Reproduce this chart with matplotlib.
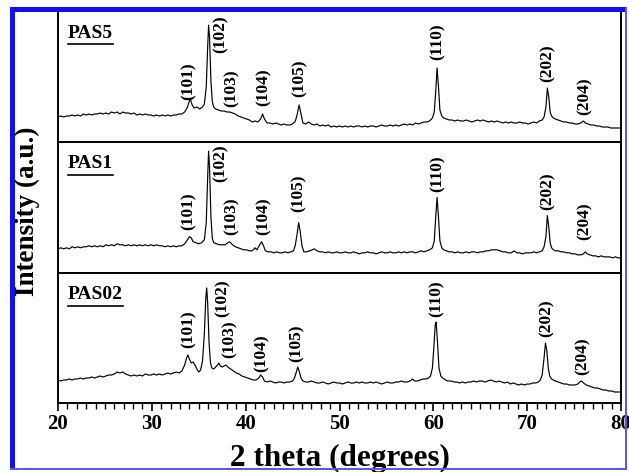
import matplotlib
matplotlib.use("Agg")
import matplotlib.pyplot as plt
from matplotlib.patches import Rectangle
from matplotlib.lines import Line2D
from matplotlib.ticker import MultipleLocator

# ---------------- data ----------------
sample_names = ["PAS5", "PAS1", "PAS02"]
hkl_labels = ["(101)", "(102)", "(103)", "(104)", "(105)", "(110)", "(202)", "(204)"]
x_ticks = [20, 30, 40, 50, 60, 70, 80]

pas5_points = [
    (20.0, 25), (20.3, 26), (20.6, 25), (20.9, 26), (21.2, 26), (21.5, 27), (21.8, 26), (22.1, 27),
    (22.4, 26), (22.7, 28), (23.0, 27), (23.3, 28), (23.6, 27), (23.9, 28), (24.2, 28), (24.5, 29),
    (24.8, 28), (25.1, 29), (25.4, 28), (25.7, 30), (26.0, 29), (26.3, 30), (26.6, 28), (26.9, 30),
    (27.2, 29), (27.5, 29), (27.8, 28), (28.1, 29), (28.4, 27), (28.7, 28), (29.0, 27), (29.3, 28),
    (29.6, 27), (29.9, 27), (30.2, 26), (30.5, 27), (30.8, 26), (31.1, 27), (31.4, 26), (31.7, 27),
    (32.0, 26), (32.3, 27), (32.6, 27), (32.9, 28), (33.2, 28), (33.5, 30), (33.8, 35), (34.0, 41),
    (34.1, 43), (34.3, 37), (34.5, 34), (34.8, 35), (35.1, 33), (35.4, 35), (35.6, 38), (35.8, 55),
    (35.95, 95), (36.05, 117), (36.15, 105), (36.3, 60), (36.45, 40), (36.6, 35), (36.8, 33),
    (37.1, 32), (37.4, 31), (37.7, 31), (38.0, 30), (38.3, 30), (38.6, 29), (38.9, 28), (39.2, 26),
    (39.5, 25), (39.8, 24), (40.1, 23), (40.4, 22), (40.7, 20), (41.0, 21), (41.3, 20), (41.6, 23),
    (41.8, 28), (42.0, 23), (42.3, 19), (42.6, 19), (42.9, 18), (43.2, 19), (43.5, 18), (43.8, 17),
    (44.1, 18), (44.4, 17), (44.7, 17), (45.0, 18), (45.3, 21), (45.5, 28), (45.7, 37), (45.9, 28),
    (46.1, 19), (46.4, 18), (46.7, 20), (47.0, 18), (47.3, 17), (47.6, 18), (47.9, 16), (48.2, 17),
    (48.5, 16), (48.8, 17), (49.1, 15), (49.4, 16), (49.7, 15), (50.0, 16), (50.3, 15), (50.6, 16),
    (50.9, 15), (51.2, 16), (51.5, 15), (51.8, 16), (52.1, 16), (52.4, 15), (52.7, 16), (53.0, 15),
    (53.3, 16), (53.6, 16), (53.9, 15), (54.2, 16), (54.5, 17), (54.8, 16), (55.1, 16), (55.4, 17),
    (55.7, 16), (56.0, 17), (56.3, 16), (56.6, 17), (56.9, 18), (57.2, 17), (57.5, 18), (57.8, 17),
    (58.1, 19), (58.4, 18), (58.7, 19), (59.0, 20), (59.3, 20), (59.6, 21), (59.9, 24), (60.1, 30),
    (60.25, 50), (60.4, 74), (60.55, 55), (60.7, 32), (60.9, 26), (61.1, 24), (61.4, 23), (61.7, 22),
    (62.0, 22), (62.3, 21), (62.6, 22), (62.9, 21), (63.2, 21), (63.5, 22), (63.8, 21), (64.1, 20),
    (64.4, 21), (64.7, 22), (65.0, 21), (65.3, 22), (65.6, 21), (65.9, 20), (66.2, 21), (66.5, 20),
    (66.8, 21), (67.1, 20), (67.4, 19), (67.7, 20), (68.0, 19), (68.3, 20), (68.6, 19), (68.9, 19),
    (69.2, 20), (69.5, 19), (69.8, 19), (70.1, 18), (70.4, 19), (70.7, 20), (71.0, 19), (71.3, 21),
    (71.6, 22), (71.8, 25), (72.0, 35), (72.15, 54), (72.3, 45), (72.45, 30), (72.6, 26), (72.8, 24),
    (73.0, 23), (73.3, 22), (73.6, 21), (73.9, 20), (74.2, 20), (74.5, 19), (74.8, 19), (75.1, 18),
    (75.4, 18), (75.7, 19), (76.0, 21), (76.2, 19), (76.5, 18), (76.8, 17), (77.1, 17), (77.4, 16),
    (77.7, 16), (78.0, 15), (78.3, 15), (78.6, 15), (78.9, 14), (79.2, 14), (79.5, 14), (79.8, 14),
    (80.0, 14),
]

pas1_points = [
    (20.0, 24), (20.3, 25), (20.6, 24), (20.9, 25), (21.2, 24), (21.5, 26), (21.8, 25), (22.1, 26),
    (22.4, 25), (22.7, 26), (23.0, 26), (23.3, 27), (23.6, 26), (23.9, 27), (24.2, 26), (24.5, 27),
    (24.8, 26), (25.1, 28), (25.4, 27), (25.7, 28), (26.0, 27), (26.3, 29), (26.6, 28), (26.9, 28),
    (27.2, 27), (27.5, 28), (27.8, 27), (28.1, 28), (28.4, 27), (28.7, 28), (29.0, 27), (29.3, 28),
    (29.6, 27), (29.9, 28), (30.2, 27), (30.5, 28), (30.8, 27), (31.1, 27), (31.4, 26), (31.7, 27),
    (32.0, 26), (32.3, 27), (32.6, 26), (32.9, 27), (33.2, 27), (33.5, 29), (33.8, 33), (34.0, 36),
    (34.2, 35), (34.4, 31), (34.7, 30), (35.0, 29), (35.3, 30), (35.6, 33), (35.8, 50), (35.95, 95),
    (36.05, 121), (36.15, 105), (36.3, 55), (36.45, 34), (36.6, 30), (36.9, 29), (37.2, 28),
    (37.5, 28), (37.8, 28), (38.1, 30), (38.3, 31), (38.6, 28), (38.9, 26), (39.2, 25), (39.5, 24),
    (39.8, 23), (40.1, 23), (40.4, 22), (40.7, 22), (41.0, 25), (41.2, 23), (41.5, 28), (41.7, 31),
    (41.9, 27), (42.1, 22), (42.4, 21), (42.7, 21), (43.0, 20), (43.3, 21), (43.6, 20), (43.9, 20),
    (44.2, 21), (44.5, 20), (44.8, 21), (45.1, 22), (45.3, 28), (45.5, 40), (45.65, 50), (45.8, 42),
    (46.0, 27), (46.2, 21), (46.5, 21), (46.8, 22), (47.1, 23), (47.3, 24), (47.6, 22), (47.9, 21),
    (48.2, 21), (48.5, 20), (48.8, 21), (49.1, 20), (49.4, 20), (49.7, 21), (50.0, 20), (50.3, 20),
    (50.6, 21), (50.9, 20), (51.2, 20), (51.5, 21), (51.8, 20), (52.1, 19), (52.4, 20), (52.7, 20),
    (53.0, 21), (53.3, 20), (53.6, 20), (53.9, 19), (54.2, 20), (54.5, 21), (54.8, 20), (55.1, 20),
    (55.4, 21), (55.7, 20), (56.0, 20), (56.3, 21), (56.6, 20), (56.9, 21), (57.2, 20), (57.5, 21),
    (57.8, 21), (58.1, 20), (58.4, 21), (58.7, 22), (59.0, 21), (59.3, 22), (59.6, 23), (59.9, 25),
    (60.1, 32), (60.25, 55), (60.4, 75), (60.55, 55), (60.7, 32), (60.9, 25), (61.1, 23), (61.4, 22),
    (61.7, 21), (62.0, 21), (62.3, 20), (62.6, 21), (62.9, 20), (63.2, 20), (63.5, 21), (63.8, 20),
    (64.1, 21), (64.4, 21), (64.7, 20), (65.0, 21), (65.3, 21), (65.6, 22), (65.9, 22), (66.2, 23),
    (66.5, 23), (66.8, 23), (67.1, 22), (67.4, 21), (67.7, 21), (68.0, 20), (68.3, 20), (68.6, 22),
    (68.9, 20), (69.2, 20), (69.5, 19), (69.8, 20), (70.1, 20), (70.4, 20), (70.7, 21), (71.0, 20),
    (71.3, 21), (71.6, 22), (71.8, 26), (72.0, 36), (72.15, 57), (72.3, 46), (72.45, 30), (72.6, 25),
    (72.8, 23), (73.0, 22), (73.3, 22), (73.6, 21), (73.9, 21), (74.2, 20), (74.5, 20), (74.8, 19),
    (75.1, 19), (75.4, 18), (75.7, 18), (76.0, 19), (76.2, 21), (76.4, 19), (76.7, 18), (77.0, 17),
    (77.3, 17), (77.6, 16), (77.9, 17), (78.2, 16), (78.5, 16), (78.8, 16), (79.1, 15), (79.4, 16),
    (79.7, 15), (80.0, 15),
]

pas02_points = [
    (20.0, 23), (20.3, 22), (20.6, 23), (20.9, 23), (21.2, 24), (21.5, 23), (21.8, 24), (22.1, 24),
    (22.4, 25), (22.7, 24), (23.0, 25), (23.3, 25), (23.6, 26), (23.9, 25), (24.2, 26), (24.5, 27),
    (24.8, 26), (25.1, 27), (25.4, 28), (25.7, 28), (26.0, 29), (26.3, 31), (26.6, 30), (26.9, 31),
    (27.2, 29), (27.5, 28), (27.8, 27), (28.1, 28), (28.4, 27), (28.7, 28), (29.0, 27), (29.3, 29),
    (29.6, 28), (29.9, 28), (30.2, 29), (30.5, 28), (30.8, 29), (31.1, 28), (31.4, 29), (31.7, 30),
    (32.0, 29), (32.3, 30), (32.6, 31), (32.9, 30), (33.2, 32), (33.5, 38), (33.7, 45), (33.85, 48),
    (34.0, 44), (34.2, 40), (34.4, 41), (34.6, 38), (34.8, 34), (35.0, 31), (35.2, 33), (35.4, 42),
    (35.6, 70), (35.75, 105), (35.85, 115), (35.95, 100), (36.1, 60), (36.25, 40), (36.4, 35),
    (36.6, 34), (36.8, 36), (37.0, 38), (37.15, 40), (37.3, 37), (37.5, 36), (37.7, 37), (37.9, 38),
    (38.1, 36), (38.4, 34), (38.7, 32), (39.0, 30), (39.3, 29), (39.6, 27), (39.9, 26), (40.2, 25),
    (40.5, 24), (40.8, 23), (41.1, 23), (41.4, 25), (41.6, 28), (41.8, 26), (42.0, 22), (42.3, 21),
    (42.6, 22), (42.9, 21), (43.2, 20), (43.5, 21), (43.8, 21), (44.1, 20), (44.4, 21), (44.7, 21),
    (45.0, 22), (45.2, 25), (45.4, 31), (45.55, 36), (45.7, 32), (45.9, 25), (46.1, 22), (46.4, 21),
    (46.7, 21), (47.0, 22), (47.3, 21), (47.6, 20), (47.9, 20), (48.2, 21), (48.5, 20), (48.8, 19),
    (49.1, 20), (49.4, 21), (49.7, 20), (50.0, 20), (50.3, 19), (50.6, 20), (50.9, 21), (51.2, 20),
    (51.5, 20), (51.8, 21), (52.1, 20), (52.4, 21), (52.7, 20), (53.0, 20), (53.3, 21), (53.6, 20),
    (53.9, 21), (54.2, 20), (54.5, 19), (54.8, 20), (55.1, 21), (55.4, 20), (55.7, 20), (56.0, 21),
    (56.3, 21), (56.6, 22), (56.9, 21), (57.2, 21), (57.5, 22), (57.8, 24), (58.0, 22), (58.3, 22),
    (58.6, 23), (58.9, 24), (59.2, 24), (59.5, 25), (59.7, 27), (59.9, 35), (60.05, 55), (60.2, 78),
    (60.3, 81), (60.45, 60), (60.6, 35), (60.8, 27), (61.0, 25), (61.3, 23), (61.6, 22), (61.9, 22),
    (62.2, 21), (62.5, 21), (62.8, 20), (63.1, 21), (63.4, 20), (63.7, 21), (64.0, 21), (64.3, 22),
    (64.6, 21), (64.9, 22), (65.2, 22), (65.5, 21), (65.8, 22), (66.1, 23), (66.4, 22), (66.7, 21),
    (67.0, 22), (67.3, 21), (67.6, 20), (67.9, 21), (68.2, 19), (68.5, 20), (68.8, 19), (69.1, 18),
    (69.4, 19), (69.7, 18), (70.0, 19), (70.3, 19), (70.6, 20), (70.9, 20), (71.2, 21), (71.4, 23),
    (71.6, 28), (71.8, 45), (71.95, 60), (72.1, 52), (72.25, 35), (72.4, 27), (72.6, 24), (72.8, 23),
    (73.0, 22), (73.3, 21), (73.6, 20), (73.9, 19), (74.2, 19), (74.5, 18), (74.8, 18), (75.1, 18),
    (75.4, 19), (75.6, 21), (75.8, 22), (76.0, 20), (76.3, 18), (76.6, 17), (76.9, 16), (77.2, 15),
    (77.5, 15), (77.8, 14), (78.1, 13), (78.4, 13), (78.7, 12), (79.0, 12), (79.3, 11), (79.6, 11),
    (80.0, 11),
]

series = [pas5_points, pas1_points, pas02_points]

# label anchor positions (theta, bottom of the rotated label) for each panel
label_x = [
    [33.9, 37.3, 38.5, 41.9, 45.7, 60.5, 72.2, 76.1],
    [33.9, 37.3, 38.5, 41.9, 45.6, 60.5, 72.2, 76.1],
    [33.9, 37.5, 38.3, 41.7, 45.4, 60.3, 72.1, 75.9],
]
label_y = [
    [42, 89, 35, 36, 45, 82, 60, 27],
    [43, 90, 38, 38, 61, 80, 63, 33],
    [55, 86, 45, 31, 41, 86, 66, 28],
]

# ---------------- figure ----------------
W, H = 629, 472
fig = plt.figure(figsize=(W / 100, H / 100), dpi=100)
serif = ["Liberation Serif", "DejaVu Serif"]

def fx(px):
    return px / W

def fy(py):
    return 1 - py / H

left_px, right_px = 58, 621
panel_edges = [12, 142, 273, 403]
axes = []
for i in range(3):
    top, bot = panel_edges[i], panel_edges[i + 1]
    ax = fig.add_axes([fx(left_px), fy(bot), fx(right_px - left_px), (bot - top) / H],
                      sharex=axes[0] if axes else None)
    axes.append(ax)

for i, ax in enumerate(axes):
    xs, ys = zip(*series[i])
    ax.plot(xs, ys, color="black", lw=0.85)
    ax.set_xlim(20, 80)
    ax.set_ylim(0, 130)
    ax.set_yticks([])
    for sp in ax.spines.values():
        sp.set_linewidth(1.4)
        sp.set_color("black")
    if i == 0:
        ax.spines["top"].set_visible(False)
    for lab, lx, ly in zip(hkl_labels, label_x[i], label_y[i]):
        ax.text(lx, ly, lab, rotation=90, ha="center", va="bottom",
                fontsize=12.5, fontweight="bold", family=serif)
    ax.text(0.018, 0.80, sample_names[i], transform=ax.transAxes, ha="left",
            va="baseline", fontsize=14, fontweight="bold", family=serif)
    if i < 2:
        ax.tick_params(axis="x", which="both", bottom=False, labelbottom=False)

bax = axes[2]
bax.set_xticks(x_ticks)
bax.xaxis.set_minor_locator(MultipleLocator(1))
bax.tick_params(axis="x", which="major", direction="out", length=6, width=1.2, pad=2,
                labelsize=15)
bax.tick_params(axis="x", which="minor", direction="out", length=4, width=1.0)
for t in bax.get_xticklabels():
    t.set_fontfamily(serif)
    t.set_fontweight("bold")

fig.text(fx(340), fy(466), "2 theta (degrees)", ha="center", va="baseline",
         fontsize=22.5, fontweight="bold", family=serif)
fig.text(fx(27), fy(211), "Intensity (a.u.)", rotation=90, ha="center", va="center",
         fontsize=19.5, fontweight="bold", family=serif)

# underline the sample names
fig.canvas.draw()
renderer = fig.canvas.get_renderer()
for ax in axes:
    for t in ax.texts:
        if t.get_text() in sample_names:
            bb = t.get_window_extent(renderer)
            yline = bb.y0 - 2.5
            fig.add_artist(Line2D([bb.x0 / W, bb.x1 / W], [yline / H, yline / H],
                                  transform=fig.transFigure, color="black", lw=1.2))

# blue frame round the figure
blue = "#1010f0"
light_blue = "#5a5ae0"
fig.add_artist(Rectangle((fx(10), fy(469)), fx(5), (469 - 7) / H, transform=fig.transFigure,
                         facecolor=blue, edgecolor="none", zorder=10))
fig.add_artist(Rectangle((fx(10), fy(12)), fx(617), 5 / H, transform=fig.transFigure,
                         facecolor=blue, edgecolor="none", zorder=10))
fig.add_artist(Rectangle((fx(625), fy(470)), fx(2), (470 - 7) / H, transform=fig.transFigure,
                         facecolor=light_blue, edgecolor="none", zorder=10))
fig.add_artist(Rectangle((fx(10), fy(470)), fx(617), 2 / H, transform=fig.transFigure,
                         facecolor=light_blue, edgecolor="none", zorder=10))

fig.savefig("out.png", dpi=100)
